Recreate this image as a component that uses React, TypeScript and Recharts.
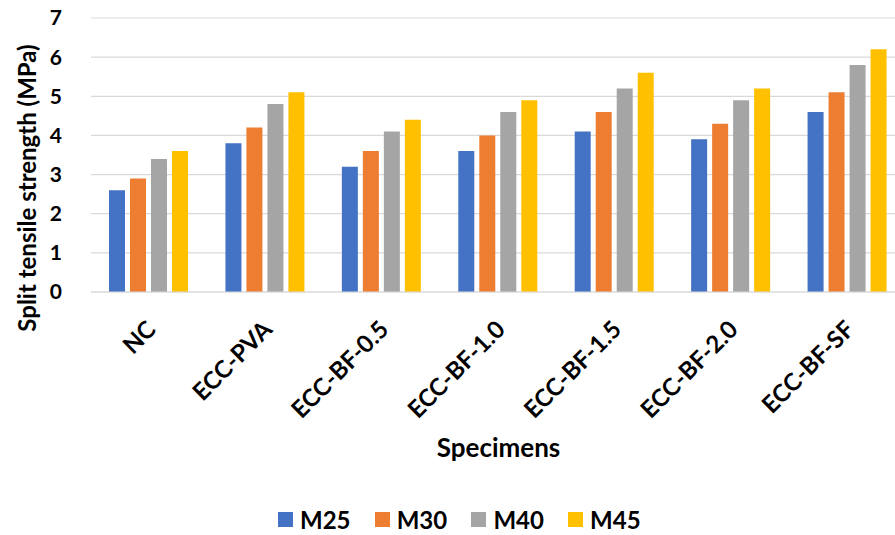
import { BarChart, Bar, XAxis, YAxis, CartesianGrid, Legend } from 'recharts'

// ── Split tensile strength per mix ───────────────────────────────────────────

const specimens = ['NC', 'ECC-PVA', 'ECC-BF-0.5', 'ECC-BF-1.0', 'ECC-BF-1.5', 'ECC-BF-2.0', 'ECC-BF-SF']
const m25 = [2.6, 3.8, 3.2, 3.6, 4.1, 3.9, 4.6]
const m30 = [2.9, 4.2, 3.6, 4.0, 4.6, 4.3, 5.1]
const m40 = [3.4, 4.8, 4.1, 4.6, 5.2, 4.9, 5.8]
const m45 = [3.6, 5.1, 4.4, 4.9, 5.6, 5.2, 6.2]
const yTicks = [0, 1, 2, 3, 4, 5, 6, 7]

const grades = [
  { key: 'M25', color: '#4472C4' },
  { key: 'M30', color: '#ED7D31' },
  { key: 'M40', color: '#A5A5A5' },
  { key: 'M45', color: '#FFC000' },
]

const data = specimens.map((name, i) => ({
  name,
  M25: m25[i],
  M30: m30[i],
  M40: m40[i],
  M45: m45[i],
}))

const FONT = 'Lato, "Open Sans", sans-serif'
const bold = { fontFamily: FONT, fontWeight: 700, fill: '#000' }

function SpecimenTick({ x, y, payload }: any) {
  const ax = x + 8
  const ay = y + 37
  return (
    <text x={ax} y={ay} textAnchor="end" fontSize={24} {...bold} transform={`rotate(-45, ${ax}, ${ay})`}>
      {payload.value}
    </text>
  )
}

// axis titles: y title sits left of the ticks, x title under the rotated labels
function YTitle() {
  return (
    <text x={36} y={188} textAnchor="middle" fontSize={24} {...bold} transform="rotate(-90, 36, 188)">
      Split tensile strength (MPa)
    </text>
  )
}

function XTitle({ viewBox }: any) {
  const cx = viewBox.x + viewBox.width / 2
  return (
    <text x={cx} y={457} textAnchor="middle" fontSize={26} {...bold}>
      Specimens
    </text>
  )
}

function GradeLegend() {
  return (
    <div style={{ display: 'flex', height: 30, alignItems: 'center', paddingLeft: 227, fontFamily: FONT }}>
      {grades.map((g) => (
        <div key={g.key} style={{ display: 'flex', alignItems: 'center', width: 96.7 }}>
          <span style={{ width: 15, height: 15, background: g.color, marginRight: 7 }} />
          <span style={{ fontSize: 24, fontWeight: 700, color: '#000' }}>{g.key}</span>
        </div>
      ))}
    </div>
  )
}

export default function App() {
  return (
    <div style={{ position: 'absolute', left: 0, top: 0, width: 895, height: 535, overflow: 'hidden', background: '#fff' }}>
      <BarChart
        width={910}
        height={535}
        data={data}
        margin={{ top: 18, right: 4, left: 51, bottom: 1 }}
        barCategoryGap={18}
        barGap={5}
      >
        <CartesianGrid vertical={false} stroke="#d9d9d9" strokeWidth={1.2} />
        <XAxis
          dataKey="name"
          interval={0}
          height={212}
          tickLine={false}
          axisLine={{ stroke: '#d9d9d9', strokeWidth: 1.2 }}
          tickSize={0}
          tick={<SpecimenTick />}
          label={<XTitle />}
        />
        <YAxis
          domain={[0, 7]}
          ticks={yTicks}
          width={40}
          tickLine={false}
          axisLine={false}
          tickSize={0}
          tickMargin={29}
          tick={{ ...bold, fontSize: 21 }}
          label={<YTitle />}
        />
        <Legend verticalAlign="bottom" align="left" content={<GradeLegend />} />
        {grades.map((g) => (
          <Bar key={g.key} dataKey={g.key} fill={g.color} isAnimationActive={false} />
        ))}
      </BarChart>
    </div>
  )
}
